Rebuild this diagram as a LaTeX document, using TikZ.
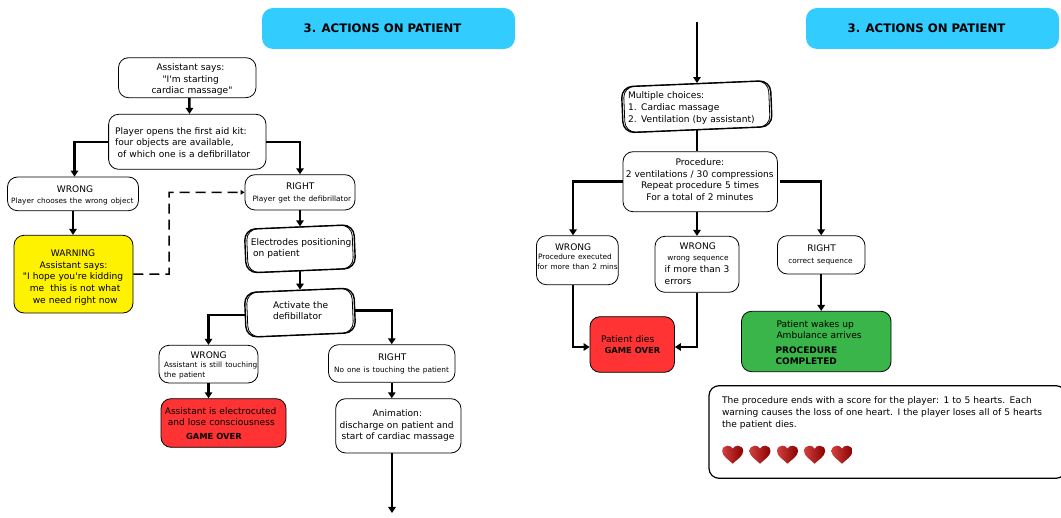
\documentclass[tikz,border=0pt]{standalone}
\usepackage{fontspec}
\setmainfont{DejaVu Sans}
\newfontfamily\djv{DejaVu Sans}
\usetikzlibrary{arrows.meta}
\definecolor{bannerblue}{HTML}{33CCFF}
\definecolor{warnyellow}{HTML}{FFF200}
\definecolor{deadred}{HTML}{FF3333}
\definecolor{okgreen}{HTML}{39B54A}
\definecolor{heartlight}{HTML}{D04040}
\definecolor{heartdark}{HTML}{8B0000}
\newcommand{\mnf}{\djv\fontsize{9.08pt}{11.6pt}\selectfont}
\newcommand{\smf}{\djv\fontsize{7.35pt}{10pt}\selectfont}
\newcommand{\bdf}{\djv\fontsize{8.35pt}{11.2pt}\selectfont\bfseries}
\newcommand{\bgf}{\djv\fontsize{9pt}{11.2pt}\selectfont\bfseries}
\def\tdy{0pt}
% one line of text, at a set distance from the left edge of its box
\newcommand{\tln}[2]{\hspace*{#1pt}\strut\rlap{\smash{\raisebox{\tdy}{#2}}}}
\newcommand{\bx}[7][]{%
  \pgfmathsetmacro{\bw}{#5-#3}\pgfmathsetmacro{\bh}{#6-#4}%
  \pgfmathsetmacro{\bcx}{(#3+#5)/2}\pgfmathsetmacro{\bcy}{(#4+#6)/2}%
  \node[boxbase,#1,text width=\bw pt,minimum height=\bh pt] (#2) at (\bcx,\bcy) {#7};}
\newcommand{\tilted}[5]{%
  \pgfmathsetmacro{\bw}{#4-#2-4.5}\pgfmathsetmacro{\bh}{#5-#3-6}%
  \pgfmathsetmacro{\bcx}{(#2+#4)/2}\pgfmathsetmacro{\bcy}{(#3+#5)/2}%
  \node[tiltbox,minimum width=\bw pt,minimum height=\bh pt] (#1) at (\bcx,\bcy) {};
  \pgfmathsetmacro{\bw}{\bw-4}%
  \node[tiltbox,fill=none,line width=.8pt,minimum width=\bw pt,minimum height=\bh pt] (#1in) at (\bcx,\bcy) {};}
\tikzset{
  boxbase/.style={draw=black,fill=white,line width=.8pt,rounded corners=10pt,inner sep=0pt,align=left,font=\mnf},
  plainline/.style={draw=none,fill=none},
  tiltbox/.style={draw=black,fill=white,line width=1.4pt,rounded corners=11pt,inner sep=0pt,rotate=2.4},
  banner/.style={fill=bannerblue,rounded corners=11pt,minimum width=253pt,minimum height=41pt,inner sep=0pt,font=\djv\fontsize{11.7pt}{14pt}\selectfont\bfseries},
  conn/.style={line width=2.5pt,-{Triangle[length=6pt,width=7.5pt]}},
  link/.style={line width=2.5pt},
  dashconn/.style={line width=1.5pt,dash pattern=on 10pt off 6pt,-{Triangle[length=4pt,width=4.5pt]}},
  heart/.style={left color=heartlight,right color=heartdark}
}
\begin{document}
\begin{tikzpicture}[x=1pt,y=-1pt]
\useasboundingbox (0,0) rectangle (1061,518);
\clip (0,0) rectangle (1061,518);
% banners
\node[banner] (bannerA) at (388.5,28.5) {\mbox{3. ACTIONS ON PATIENT\kern12pt}};
\node[banner] (bannerB) at (932.5,28.5) {\mbox{3. ACTIONS ON PATIENT\kern12pt}};
% left column
\bx{assist}{118.5}{57.7}{256}{97.7}{\def\tdy{-2pt}\tln{38}{Assistant says:}\\\tln{44}{"I'm starting}\\\tln{33}{cardiac massage"}}
\bx{player}{108.6}{114.3}{266}{169.3}{\def\tdy{-1.5pt}\tln{6.5}{Player opens the first aid kit:}\\\tln{6.5}{four objects are available,}\\\tln{9}{of which one is a defibrillator}}
\bx{wrongA}{7.5}{177}{138.5}{210.7}{\def\tdy{-1.5pt}\tln{49.4}{WRONG}\\\smf\tln{3.7}{Player chooses the wrong object}}
\bx{rightA}{245}{174.7}{355}{210}{\def\tdy{-.5pt}\tln{41}{RIGHT}\\\smf\tln{7.5}{Player get the defibrillator}}
\bx[fill=warnyellow]{warn}{14}{235.3}{133}{313}{\def\tdy{-3.5pt}\tln{36.8}{WARNING}\\\tln{25.6}{Assistant says:}\\\tln{9}{"I hope you're kidding}\\\tln{15.8}{me\ \ this is not what}\\\tln{18.8}{we need right now}}
\tilted{elecT}{243}{224}{357}{273.7}
\bx[plainline]{elec}{243}{224}{357}{273.7}{\tln{7.8}{Electrodes positioning}\\\tln{10}{on patient}}
\tilted{activT}{243}{287.3}{357}{338}
\bx[plainline]{activ}{243}{287.3}{357}{338}{\def\tdy{1pt}\tln{30}{Activate the}\\\tln{30}{defibillator}}
\bx{wrongB}{159}{345.3}{258}{383}{\def\tdy{-1pt}\tln{31.5}{WRONG}\\[-2pt]\smf\tln{5}{Assistant is still touching}\\[-2pt]\tln{5}{the patient}}
\bx{rightB}{328.5}{344.7}{455}{382.3}{\def\tdy{-.5pt}\tln{49.5}{RIGHT}\\\smf\tln{5.5}{No one is touching the patient}}
\bx[fill=deadred]{redA}{161}{398.7}{286}{447.3}{\def\tdy{-1.5pt}\tln{3.8}{Assistant is electrocuted}\\\tln{6.8}{and lose consciousness}\\[2pt]\bdf\tln{25}{GAME OVER}}
\bx{anim}{335.7}{398.7}{461}{453}{\tln{37}{Animation:}\\\tln{4}{discharge on patient and}\\\tln{6}{start of cardiac massage}}
% right column
\tilted{multiT}{620}{80.7}{773.6}{132.7}
\bx[plainline]{multi}{620}{80.7}{773.6}{132.7}{\def\tdy{-1.5pt}\tln{8}{Multiple choices:}\\\tln{8}{1. Cardiac massage}\\\tln{8}{2. Ventilation (by assistant)}}
\bx{proc}{623}{151.7}{777.4}{211.7}{\def\tdy{1pt}\tln{52.5}{Procedure:}\\\tln{2.8}{2 ventilations / 30 compressions}\\\tln{18}{Repeat procedure 5 times}\\\tln{23.4}{For a total of 2 minutes}}
\bx{wrongC}{536.4}{235.7}{618.3}{284.7}{\def\tdy{3pt}\tln{18.6}{WRONG}\\[-2pt]\smf\tln{1.7}{Procedure executed}\\[-2pt]\tln{1}{for more than 2 mins}}
\bx{wrongD}{655}{236.3}{739}{292.3}{\tln{24.6}{WRONG}\\{\smf\tln{12.4}{wrong sequence}}\\\tln{9.7}{if more than 3}\\\tln{9.7}{errors}}
\bx{rightC}{777.4}{235.7}{865}{274}{\tln{30}{RIGHT}\\\smf\tln{11}{correct sequence}}
\bx[fill=deadred]{redB}{590}{316.7}{674.5}{372.3}{\def\tdy{-1pt}\tln{11}{Patient dies}\\\bdf\tln{14.5}{GAME OVER}}
\bx[fill=okgreen]{green}{741.5}{311.3}{891}{371.7}{\def\tdy{-2pt}\tln{35}{Patient wakes up}\\\tln{35}{Ambulance arrives}\\[2pt]\bgf\tln{34}{PROCEDURE}\\\bgf\tln{34}{COMPLETED}}
\bx[line width=1.2pt]{score}{709}{385.7}{1066}{478.3}{\tln{13}{The procedure ends with a score for the player: 1 to 5 hearts. Each}\\\tln{13}{warning causes the loss of one heart. I the player loses all of 5 hearts}\\\tln{13}{the patient dies.}\\[26pt]\strut}
% hearts
\foreach \hx in {732.7,760,787.5,814.6,842}{
  \shade[shift={(\hx,454.7)},heart]
    (0,9) .. controls (-4,5) and (-10.5,1.5) .. (-10.5,-3.5)
    .. controls (-10.5,-7) and (-8,-9) .. (-5.2,-9)
    .. controls (-3,-9) and (-1,-8) .. (0,-6)
    .. controls (1,-8) and (3,-9) .. (5.2,-9)
    .. controls (8,-9) and (10.5,-7) .. (10.5,-3.5)
    .. controls (10.5,1.5) and (4,5) .. (0,9) -- cycle;
}
% connectors, left
\draw[conn] ([xshift=2.2pt]assist.south) -- ([xshift=2.2pt]player.north);
\draw[conn] (player.west) -| ([xshift=1.5pt]wrongA.north);
\draw[conn] (player.east) -| (rightA.north);
\draw[conn] (wrongA.south) -- (wrongA.south |- warn.north);
\draw[conn] (rightA.south) -- (rightA.south |- elecT.north);
\draw[conn] (elecT.center |- elecT.south) -- (elecT.center |- activT.north);
\draw[conn] (activT.west) -| (wrongB.north);
\draw[conn] (activT.east) -| (rightB.north);
\draw[conn] (wrongB.south) -- (wrongB.south |- redA.north);
\draw[conn] (rightB.south) -- (rightB.south |- anim.north);
\coordinate (endA) at (392,513);
\draw[conn] (endA |- anim.south) -- (endA);
\coordinate (bend) at (169,192.35);
\draw[dashconn] (warn.east) -| (bend) -- (rightA.west);
% connectors, right
\coordinate (startB) at (697,22.3);
\draw[conn] (startB) -- (startB |- multiT.north);
\draw[link] (startB |- multiT.south) -- (startB |- proc.north);
\draw[conn] (proc.west) -| ([xshift=-4.3pt]wrongC.north);
\draw[conn] ([xshift=2.3pt]proc.east) -| (rightC.north);
\draw[conn] (wrongD.north |- proc.south) -- (wrongD.north);
\draw[conn] ([xshift=-4.3pt]wrongC.south) |- ([yshift=-2.5pt]redB.west);
\draw[conn] (wrongD.south) |- ([yshift=-2.5pt]redB.east);
\draw[conn] (rightC.south) -- (rightC.south |- green.north);
\end{tikzpicture}
\end{document}
